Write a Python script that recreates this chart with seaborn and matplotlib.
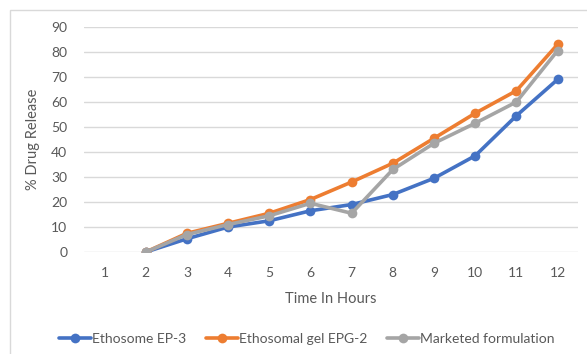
import matplotlib
matplotlib.use("Agg")
import matplotlib.pyplot as plt
import numpy as np
import pandas as pd
import seaborn as sns
from matplotlib.patches import Rectangle

hours = [1, 2, 3, 4, 5, 6, 7, 8, 9, 10, 11, 12]
ethosome_ep3 = [np.nan, 0, 5.3, 10, 12.5, 16.5, 19, 23, 29.5, 38.5, 54.5, 69]
ethosomal_gel_epg2 = [np.nan, 0, 7.5, 11.5, 15.5, 21, 28, 35.5, 45.5, 55.5, 64.5, 83]
marketed = [np.nan, 0, 7, 11, 14.5, 19.5, 15.5, 33, 43.5, 51.5, 60, 80.5]

series_names = ["Ethosome EP-3", "Ethosomal gel EPG-2", "Marketed formulation"]
colors = ["#4472C4", "#ED7D31", "#A5A5A5"]

df = pd.DataFrame({
    "hour": hours * 3,
    "release": ethosome_ep3 + ethosomal_gel_epg2 + marketed,
    "series": [series_names[0]] * 12 + [series_names[1]] * 12 + [series_names[2]] * 12,
})

sns.set_style("white")
plt.rcParams["font.family"] = ["Lato", "DejaVu Sans"]

fig = plt.figure(figsize=(5.87, 3.54), dpi=100)
ax = fig.add_axes([0.143, 0.288, 0.842, 0.636])

sns.lineplot(
    data=df, x="hour", y="release", hue="series", palette=colors,
    marker="o", markersize=7, markeredgewidth=0, linewidth=2.6,
    ax=ax, legend=False,
)

ax.set_xlim(0.5, 12.5)
ax.set_ylim(0, 90)
ax.set_xticks(hours)
ax.set_yticks(range(0, 91, 10))
ax.yaxis.grid(True, color="#D9D9D9", linewidth=1)
ax.set_axisbelow(True)
for s in ax.spines.values():
    s.set_visible(False)
ax.tick_params(axis="x", length=0, labelsize=10, colors="#595959", pad=11)
ax.tick_params(axis="y", length=0, labelsize=10, colors="#595959", pad=12)
ax.set_xlabel("Time In Hours", fontsize=10.5, color="#595959", labelpad=9)
ax.set_ylabel("% Drug Release", fontsize=10.5, color="#595959", labelpad=8)

handles = [
    plt.Line2D([], [], color=c, marker="o", markersize=7, markeredgewidth=0, linewidth=2.6)
    for c in colors
]
fig.legend(handles, series_names, loc="center", bbox_to_anchor=(0.523, 0.042),
           ncol=3, frameon=False, fontsize=10, labelcolor="#595959",
           handlelength=2.3, columnspacing=1.4, handletextpad=0.1)

fig.patches.append(Rectangle((10 / 587, -0.1), 1.2, 1 - 10 / 354 + 0.1,
                             transform=fig.transFigure, fill=False,
                             edgecolor="#D9D9D9", linewidth=1))

fig.savefig("out.png", dpi=100)
